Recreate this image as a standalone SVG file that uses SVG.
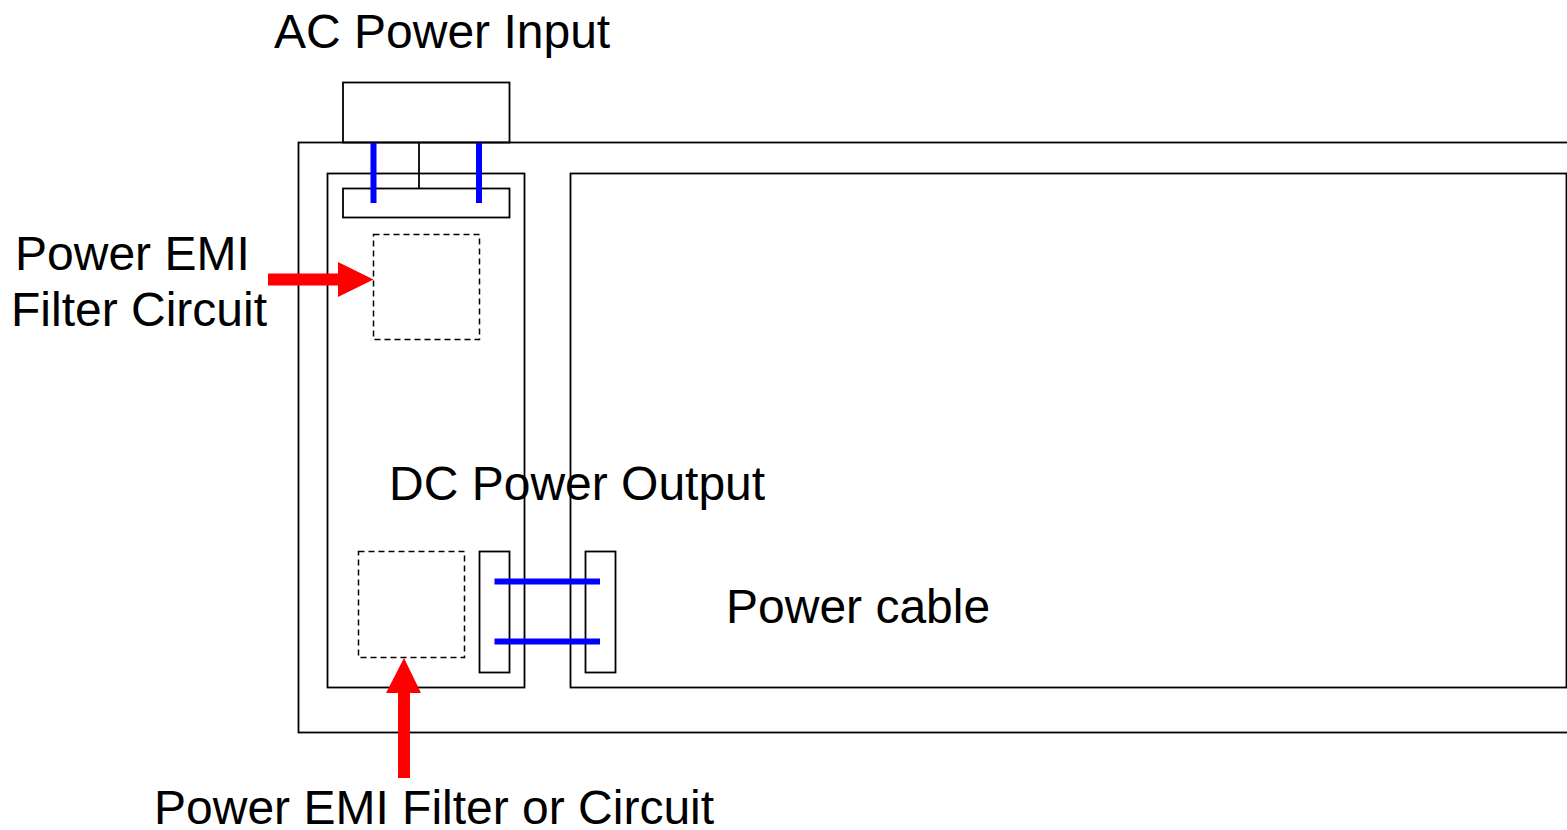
<svg xmlns="http://www.w3.org/2000/svg" width="1567" height="830" viewBox="0 0 1567 830">
  <defs>
    <style>
      .lbl { font-family: "Liberation Sans", Arial, Helvetica, sans-serif; font-size: 48px; fill: #000; }
      .box { fill: none; stroke: #000; stroke-width: 1.8; }
      .dash { fill: none; stroke: #000; stroke-width: 1.5; stroke-dasharray: 6 4; }
      .wire { stroke: #0000ff; stroke-width: 6; fill: none; }
      .arrow { fill: #ff0000; stroke: none; }
    </style>
  </defs>
  <rect width="1567" height="830" fill="#fff"/>

  <g id="labels">
    <text class="lbl" x="274" y="48">AC Power Input</text>
    <text class="lbl" x="15" y="270">Power EMI</text>
    <text class="lbl" x="11" y="326">Filter Circuit</text>
    <text class="lbl" x="389" y="500">DC Power Output</text>
    <text class="lbl" x="726" y="623">Power cable</text>
    <text class="lbl" x="154" y="824">Power EMI Filter or Circuit</text>
  </g>

  <g id="enclosure">
    <rect class="box" x="298.5" y="142.5" width="1300" height="590"/>
  </g>
  <g id="ac-input">
    <rect class="box" x="343" y="82.5" width="166.5" height="60"/>
  </g>
  <g id="power-supply">
    <rect class="box" x="327.5" y="173.5" width="197" height="514"/>
  </g>
  <g id="main-board">
    <rect class="box" x="570.5" y="173.5" width="996" height="514"/>
  </g>
  <g id="input-connector">
    <rect class="box" x="343" y="188.5" width="166.5" height="29"/>
  </g>
  <g id="emi-filter-1">
    <rect class="dash" x="373.5" y="234.5" width="106" height="105"/>
  </g>
  <g id="emi-filter-2">
    <rect class="dash" x="358.5" y="551.5" width="106" height="106"/>
  </g>
  <g id="dc-connector-a">
    <rect class="box" x="479.5" y="551.5" width="30" height="121"/>
  </g>
  <g id="dc-connector-b">
    <rect class="box" x="585.5" y="551.5" width="30" height="121"/>
  </g>

  <g id="connectors">
    <line class="box" x1="419" y1="142.5" x2="419" y2="188.5"/>
    <line class="wire" x1="373.5" y1="143" x2="373.5" y2="203"/>
    <line class="wire" x1="479" y1="143" x2="479" y2="203"/>
    <line class="wire" x1="494.5" y1="581.5" x2="600" y2="581.5"/>
    <line class="wire" x1="494.5" y1="641.5" x2="600" y2="641.5"/>
    <polygon class="arrow" points="268,273.5 338,273.5 338,262 373.5,279.5 338,297 338,285.5 268,285.5"/>
    <polygon class="arrow" points="398,778 398,693 386,693 404,658 421,693 410,693 410,778"/>
  </g>
</svg>
